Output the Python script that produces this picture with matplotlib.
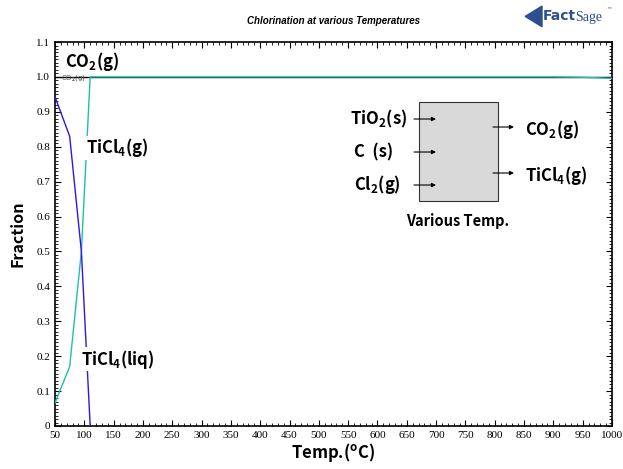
import numpy as np
import matplotlib
matplotlib.use('Agg')
from matplotlib import pyplot as plt
from matplotlib.patches import Rectangle, Polygon
from matplotlib.ticker import MultipleLocator

# equilibrium fractions
temp_liq = [50, 75, 95, 110]
ticl4_liq = [0.943, 0.83, 0.50, 0.0]
temp_gas = [50, 75, 95, 110, 900, 950, 1000]
ticl4_gas = [0.066, 0.17, 0.50, 1.0, 1.0, 0.999, 0.996]
temp_co2 = [50, 1000]
co2_gas = [1.0, 1.0]

xticks = list(range(50, 1001, 50))
yticks = [0, 0.1, 0.2, 0.3, 0.4, 0.5, 0.6, 0.7, 0.8, 0.9, 1.0, 1.1]
ylabels = ['0', '0.1', '0.2', '0.3', '0.4', '0.5', '0.6', '0.7', '0.8', '0.9', '1.0', '1.1']

lbl = 'Noto Sans CJK KR'
plt.rcParams['mathtext.fontset'] = 'custom'
plt.rcParams['mathtext.rm'] = lbl + ':bold'
plt.rcParams['mathtext.it'] = lbl + ':bold'
plt.rcParams['mathtext.bf'] = lbl + ':bold'

fig = plt.figure(figsize=(6.23, 4.69), dpi=100)
ax = fig.add_axes([0.0883, 0.0917, 0.894, 0.8187])

ax.plot(temp_co2, co2_gas, color='black', lw=1.0, zorder=2)
ax.plot(temp_gas, ticl4_gas, color='#1fbfad', lw=1.0, zorder=3)
ax.plot(temp_liq, ticl4_liq, color='#3a10e6', lw=1.0, zorder=3)

ax.set_xlim(50, 1000)
ax.set_ylim(0, 1.1)
ax.set_xticks(xticks)
ax.set_yticks(yticks)
ax.set_yticklabels(ylabels)
ax.xaxis.set_minor_locator(MultipleLocator(10))
ax.yaxis.set_minor_locator(MultipleLocator(0.01))
ax.tick_params(which='both', direction='in', top=True, right=True, labelsize=8)
ax.tick_params(which='major', length=4, width=0.8)
ax.tick_params(which='minor', length=2, width=0.6)
for t in ax.get_xticklabels() + ax.get_yticklabels():
    t.set_fontfamily('Liberation Serif')
for s in ax.spines.values():
    s.set_linewidth(1.2)

ax.set_xlabel('Temp.($^{o}$C)', fontfamily=lbl, fontweight='bold', fontsize=12, labelpad=1)
ax.set_ylabel('Fraction', fontfamily=lbl, fontweight='bold', fontsize=11.5, labelpad=8)

fig.text(0.535, 0.955, 'Chlorination at various Temperatures', fontfamily='Liberation Sans',
         fontweight='bold', fontstyle='italic', fontsize=7, ha='center', va='center')

# FactSage logo (rough)
fig.patches.append(Polygon([[0.843, 0.965], [0.870, 0.987], [0.870, 0.943]], closed=True,
                           transform=fig.transFigure, color='#2b4f8f'))
fig.text(0.871, 0.965, 'Fact', fontfamily='DejaVu Sans', fontweight='bold', fontsize=10,
         color='#2b4f8f', ha='left', va='center')
fig.text(0.923, 0.963, 'Sage', fontfamily='Liberation Serif', fontsize=10,
         color='#2b4f8f', ha='left', va='center')
fig.text(0.973, 0.978, '™', fontsize=4, color='#2b4f8f', ha='left', va='center')

# curve labels
box = dict(facecolor='white', edgecolor='none', pad=0.5)
ax.text(60, 0.998, 'CO$_2$(g)', fontsize=5, color='#555555', va='center', zorder=2)
ax.text(0.018, 0.948, 'CO$_2$(g)', transform=ax.transAxes, fontfamily=lbl, fontweight='bold',
        fontsize=12, va='center', ha='left', bbox=box, zorder=5)
ax.text(0.0557, 0.724, 'TiCl$_4$(g)', transform=ax.transAxes, fontfamily=lbl, fontweight='bold',
        fontsize=12, va='center', ha='left', bbox=box, zorder=5)
ax.text(0.0467, 0.174, 'TiCl$_4$(liq)', transform=ax.transAxes, fontfamily=lbl, fontweight='bold',
        fontsize=12, va='center', ha='left', bbox=box, zorder=5)

# reactor diagram
def ax_xy(px, py):
    return ((px - 55) / 557, (426 - py) / 384)

x0, y0 = ax_xy(419, 201)
x1, y1 = ax_xy(498, 102)
ax.add_patch(Rectangle((x0, y0), x1 - x0, y1 - y0, transform=ax.transAxes,
                       facecolor='#d9d9d9', edgecolor='#333333', lw=0.8, zorder=4))

def arrow(px0, px1, py):
    a = ax_xy(px0, py)
    b = ax_xy(px1, py)
    ax.annotate('', xy=b, xytext=a, xycoords='axes fraction', textcoords='axes fraction',
                arrowprops=dict(arrowstyle='-|>', color='black', lw=0.8,
                                mutation_scale=6, shrinkA=0, shrinkB=0), zorder=5)

def label(px, py, s, ha='left', size=12):
    x, y = ax_xy(px, py)
    ax.text(x, y, s, transform=ax.transAxes, fontfamily=lbl, fontweight='bold',
            fontsize=size, ha=ha, va='center', zorder=5)

label(350, 119, 'TiO$_2$(s)')
label(354, 152, 'C  (s)')
label(354, 184, 'Cl$_2$(g)')
label(525, 129, 'CO$_2$(g)')
label(525, 175, 'TiCl$_4$(g)')
label(458, 221, 'Various Temp.', ha='center', size=10.5)
arrow(414, 436, 119)
arrow(414, 436, 152)
arrow(414, 436, 185)
arrow(493, 514, 127)
arrow(493, 514, 173)

fig.savefig('out.png', dpi=100)
